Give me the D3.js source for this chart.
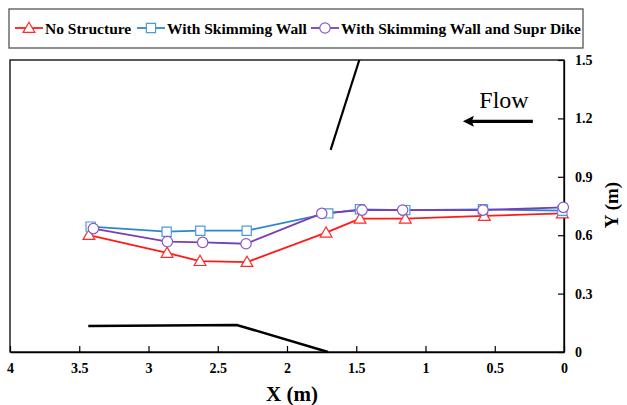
<!DOCTYPE html>
<html><head><meta charset="utf-8">
<script src="https://cdn.jsdelivr.net/npm/d3@7"></script>
<style>body{margin:0;background:#fff}svg{display:block}</style>
</head><body>
<script>
const seriesNames = ["No Structure", "With Skimming Wall", "With Skimming Wall and Supr Dike"];
const noStructX = [3.43, 2.866, 2.628, 2.289, 1.718, 1.473, 1.146, 0.575, 0.012];
const noStructY = [0.601, 0.509, 0.467, 0.462, 0.613, 0.685, 0.685, 0.699, 0.712];
const wallX = [3.418, 2.869, 2.626, 2.291, 1.702, 1.473, 1.146, 0.585, 0.012];
const wallY = [0.644, 0.618, 0.623, 0.623, 0.712, 0.733, 0.729, 0.733, 0.726];
const dikeX = [3.398, 2.864, 2.609, 2.296, 1.749, 1.458, 1.165, 0.585, 0.005];
const dikeY = [0.634, 0.567, 0.563, 0.556, 0.712, 0.729, 0.729, 0.729, 0.743];
const wallLineX = [1.685, 1.478];
const wallLineY = [1.038, 1.5];
const bankLineX = [3.435, 2.363, 1.704];
const bankLineY = [0.134, 0.139, 0.0];
const xTicks = [4, 3.5, 3, 2.5, 2, 1.5, 1, 0.5, 0];
const xTickLabels = ["4", "3.5", "3", "2.5", "2", "1.5", "1", "0.5", "0"];
const yTicks = [0, 0.3, 0.6, 0.9, 1.2, 1.5];
const yTickLabels = ["0", "0.3", "0.6", "0.9", "1.2", "1.5"];
const flowArrowX = [0.225, 0.73];
const flowArrowY = [1.185, 1.185];

const W = 627, H = 405;
const svg = d3.select("body").append("svg").attr("width", W).attr("height", H);
const x = d3.scaleLinear().domain([4, 0]).range([10, 564]);
const y = d3.scaleLinear().domain([0, 1.5]).range([352, 60]);
const serif = "'Liberation Serif','Times New Roman',serif";

// frame
svg.append("rect").attr("x", 10).attr("y", 60).attr("width", 554).attr("height", 292)
  .attr("fill", "none").attr("stroke", "#000").attr("stroke-width", 1.3);

const xa = svg.append("g").attr("transform", "translate(0,352)")
  .call(d3.axisBottom(x).tickValues(xTicks).tickFormat((d, i) => xTickLabels[i])
    .tickSizeInner(-6).tickSizeOuter(0).tickPadding(11));
const ya = svg.append("g").attr("transform", "translate(564,0)")
  .call(d3.axisRight(y).tickValues(yTicks).tickFormat((d, i) => yTickLabels[i])
    .tickSizeInner(-6).tickSizeOuter(0).tickPadding(11));
[xa, ya].forEach(g => {
  g.select(".domain").attr("stroke", "#000").attr("stroke-width", 1.3);
  g.selectAll(".tick line").attr("stroke", "#000").attr("stroke-width", 1.2);
  g.selectAll("text").attr("font-family", serif).attr("font-weight", "bold")
    .attr("font-size", 14).attr("fill", "#000");
});

// structure lines
const ln = d3.line().x(d => x(d[0])).y(d => y(d[1]));
svg.append("path").attr("d", ln(wallLineX.map((v, i) => [v, wallLineY[i]])))
  .attr("fill", "none").attr("stroke", "#000").attr("stroke-width", 2.2);
svg.append("path").attr("d", ln(bankLineX.map((v, i) => [v, bankLineY[i]])))
  .attr("fill", "none").attr("stroke", "#000").attr("stroke-width", 2.5);

// flow arrow
const ax0 = x(flowArrowX[0]), ax1 = x(flowArrowX[1]), ay = y(flowArrowY[0]);
svg.append("line").attr("x1", ax0).attr("y1", ay).attr("x2", ax1 + 8).attr("y2", ay)
  .attr("stroke", "#000").attr("stroke-width", 3.2);
svg.append("path").attr("d", `M${ax1},${ay} L${ax1 + 11},${ay - 5.5} L${ax1 + 9},${ay} L${ax1 + 11},${ay + 5.5} Z`)
  .attr("fill", "#000");
svg.append("text").attr("x", 504).attr("y", 108).attr("text-anchor", "middle")
  .attr("font-family", serif).attr("font-size", 24).text("Flow");

// series
const colors = ["#ff1a1a", "#2e86d1", "#7a3db8"];
const markerStroke = ["#ff2a2a", "#4a9ae0", "#8a55c8"];
const sym = [d3.symbolTriangle, d3.symbolSquare, d3.symbolCircle];
const sizes = [60, 85, 85];
const data = [
  noStructX.map((v, i) => [v, noStructY[i]]),
  wallX.map((v, i) => [v, wallY[i]]),
  dikeX.map((v, i) => [v, dikeY[i]])
];
data.forEach((pts, k) => {
  svg.append("path").attr("d", ln(pts)).attr("fill", "none")
    .attr("stroke", colors[k]).attr("stroke-width", 1.8);
});
data.forEach((pts, k) => {
  svg.append("g").selectAll("path").data(pts).join("path")
    .attr("transform", d => `translate(${x(d[0])},${y(d[1]) + (k === 0 ? 1 : 0)})`)
    .attr("d", d3.symbol().type(sym[k]).size(sizes[k]))
    .attr("fill", "#fff").attr("stroke", markerStroke[k]).attr("stroke-width", 1.2);
});

// axis labels
svg.append("text").attr("x", 292).attr("y", 401).attr("text-anchor", "middle")
  .attr("font-family", serif).attr("font-weight", "bold").attr("font-size", 21).text("X (m)");
svg.append("text").attr("transform", "translate(618,205) rotate(-90)").attr("text-anchor", "middle")
  .attr("font-family", serif).attr("font-weight", "bold").attr("font-size", 19).text("Y (m)");

// legend
svg.append("rect").attr("x", 9).attr("y", 9).attr("width", 574).attr("height", 39)
  .attr("fill", "#fff").attr("stroke", "#555").attr("stroke-width", 1.3);
const legX = [15, 137, 311];
const lg = svg.append("g");
seriesNames.forEach((name, k) => {
  const g = lg.append("g").attr("transform", `translate(${legX[k]},28)`);
  g.append("line").attr("x1", 0).attr("x2", 28).attr("stroke", colors[k]).attr("stroke-width", 1.8);
  g.append("path").attr("transform", `translate(14,${k === 0 ? 1 : 0})`)
    .attr("d", d3.symbol().type(sym[k]).size(sizes[k]))
    .attr("fill", "#fff").attr("stroke", markerStroke[k]).attr("stroke-width", 1.2);
  g.append("text").attr("x", 30).attr("y", 5.5).attr("font-family", serif)
    .attr("font-weight", "bold").attr("font-size", 15.5).text(name);
});
</script>
</body></html>
